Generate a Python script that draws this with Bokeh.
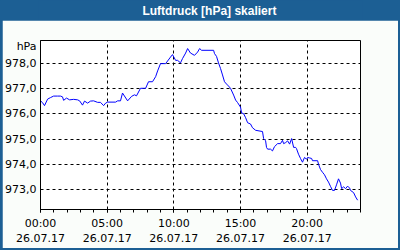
from bokeh.plotting import figure
from bokeh.models import Range1d, FixedTicker
from bokeh.layouts import column
from bokeh.core.properties import value
from bokeh.embed import file_html
from bokeh.resources import INLINE

title_text = "Luftdruck [hPa] skaliert"
unit_text = "hPa"

# minutes since 00:00 on 26.07.17
minutes = [0, 9, 18, 32, 45, 59, 77, 90, 99, 104, 117, 131, 149, 167, 176, 189, 198, 212,
           225, 239, 257, 270, 284, 293, 302, 338, 347, 360, 369, 392, 410, 423, 432, 450,
           473, 486, 504, 518, 527, 540, 563, 585, 594, 608, 617, 630, 639, 653, 662, 675,
           693, 707, 716, 725, 779, 783, 792, 801, 810, 819, 828, 837, 846, 855, 869, 878,
           887, 900, 905, 914, 923, 932, 945, 954, 968, 999, 1004, 1013, 1017, 1022, 1035,
           1044, 1053, 1067, 1080, 1089, 1094, 1103, 1112, 1121, 1130, 1139, 1148, 1152,
           1161, 1170, 1179, 1188, 1197, 1202, 1211, 1220, 1224, 1247, 1251, 1260, 1269,
           1278, 1287, 1296, 1305, 1314, 1323, 1332, 1341, 1350, 1355, 1364, 1373, 1382,
           1391, 1395, 1409, 1418, 1427]
pressure = [976.52, 976.45, 976.33, 976.59, 976.65, 976.71, 976.71, 976.71, 976.68, 976.54,
            976.63, 976.56, 976.58, 976.56, 976.52, 976.35, 976.51, 976.43, 976.51, 976.52,
            976.46, 976.46, 976.33, 976.43, 976.47, 976.47, 976.52, 976.52, 976.83, 976.52,
            976.70, 976.76, 976.72, 977.02, 977.02, 977.28, 977.28, 977.48, 977.71, 978.00,
            978.00, 978.26, 978.36, 978.13, 978.13, 978.03, 978.20, 978.42, 978.60, 978.42,
            978.33, 978.46, 978.60, 978.53, 978.53, 978.40, 978.29, 978.03, 977.81, 977.55,
            977.28, 977.19, 977.11, 977.02, 976.75, 976.55, 976.45, 976.27, 976.04, 976.01,
            975.85, 975.65, 975.60, 975.45, 975.35, 975.30, 975.02, 974.93, 974.67, 974.60,
            974.60, 974.53, 974.70, 974.82, 974.82, 974.95, 974.82, 974.86, 974.93, 974.80,
            975.02, 974.67, 974.67, 974.62, 974.40, 974.23, 974.08, 974.27, 974.20, 974.27,
            974.25, 974.23, 974.14, 974.14, 974.00, 973.79, 973.68, 973.58, 973.42, 973.29,
            973.12, 972.96, 972.96, 973.18, 973.42, 973.25, 973.03, 973.10, 973.03, 973.13,
            973.05, 972.96, 972.87, 972.70, 972.57]

x_ticks = [0, 5, 10, 15, 20]
x_tick_labels = ["00:00\n26.07.17", "05:00\n26.07.17", "10:00\n26.07.17",
                 "15:00\n26.07.17", "20:00\n26.07.17"]
y_ticks = [973, 974, 975, 976, 977, 978]
y_tick_labels = ["973,0", "974,0", "975,0", "976,0", "977,0", "978,0"]
unit_pos = 978.68  # where the unit caption sits on the value axis

hours = [m / 60 for m in minutes]

BLUE = "#1C5F94"
BG = "#FAFDFA"

# ---- title bar ----
t = figure(width=400, height=20, output_backend="svg", toolbar_location=None,
           x_range=Range1d(0, 400), y_range=Range1d(0, 20),
           x_axis_location=None, y_axis_location=None, min_border=0)
t.grid.visible = False
t.outline_line_color = None
t.background_fill_color = BLUE
t.border_fill_color = BLUE
t.text(x=[211], y=[10], text=[title_text], text_align="center", text_baseline="middle",
       text_font=value("Liberation Sans"), text_font_style="bold",
       text_font_size="12px", text_color="white")

# ---- chart ----
p = figure(width=396, height=228, output_backend="svg", toolbar_location=None,
           x_range=Range1d(0, 24), y_range=Range1d(972.2, 978.92),
           min_border_left=38, min_border_right=38, min_border_top=20, min_border_bottom=37,
           margin=(0, 2, 2, 2))
p.border_fill_color = BG
p.background_fill_color = "#FFFFFF"
p.outline_line_color = "black"
p.outline_line_width = 1

p.line(hours, pressure, line_color="#0000FF", line_width=1)

xa = p.xaxis[0]
xa.ticker = FixedTicker(ticks=x_ticks, minor_ticks=list(range(0, 25)))
xa.major_label_overrides = dict(zip(x_ticks, x_tick_labels))
xa.major_tick_in = 0
xa.major_tick_out = 3
xa.minor_tick_in = 0
xa.minor_tick_out = 3
xa.major_label_standoff = 4
xa.major_label_text_font = "DejaVu Sans"
xa.major_label_text_font_size = "11px"
xa.major_label_text_color = "black"
xa.axis_line_color = "black"

ya = p.yaxis[0]
ya.ticker = FixedTicker(ticks=y_ticks + [unit_pos])
ya.major_label_overrides = dict(zip(y_ticks + [unit_pos], y_tick_labels + [unit_text]))
ya.major_tick_in = 0
ya.major_tick_out = 0
ya.minor_tick_out = 0
ya.minor_tick_in = 0
ya.major_label_standoff = 4
ya.major_label_text_font = "DejaVu Sans"
ya.major_label_text_font_size = "11px"
ya.major_label_text_color = "black"
ya.axis_line_color = "black"

p.xgrid.ticker = FixedTicker(ticks=[5, 10, 15, 20])
p.ygrid.ticker = FixedTicker(ticks=y_ticks)
for g in (p.xgrid[0], p.ygrid[0]):
    g.grid_line_color = "black"
    g.grid_line_dash = "3 3"
    g.grid_line_width = 1

layout = column(t, p, spacing=0, styles={"background-color": BLUE})

open("out.html", "w").write(file_html(layout, INLINE))
